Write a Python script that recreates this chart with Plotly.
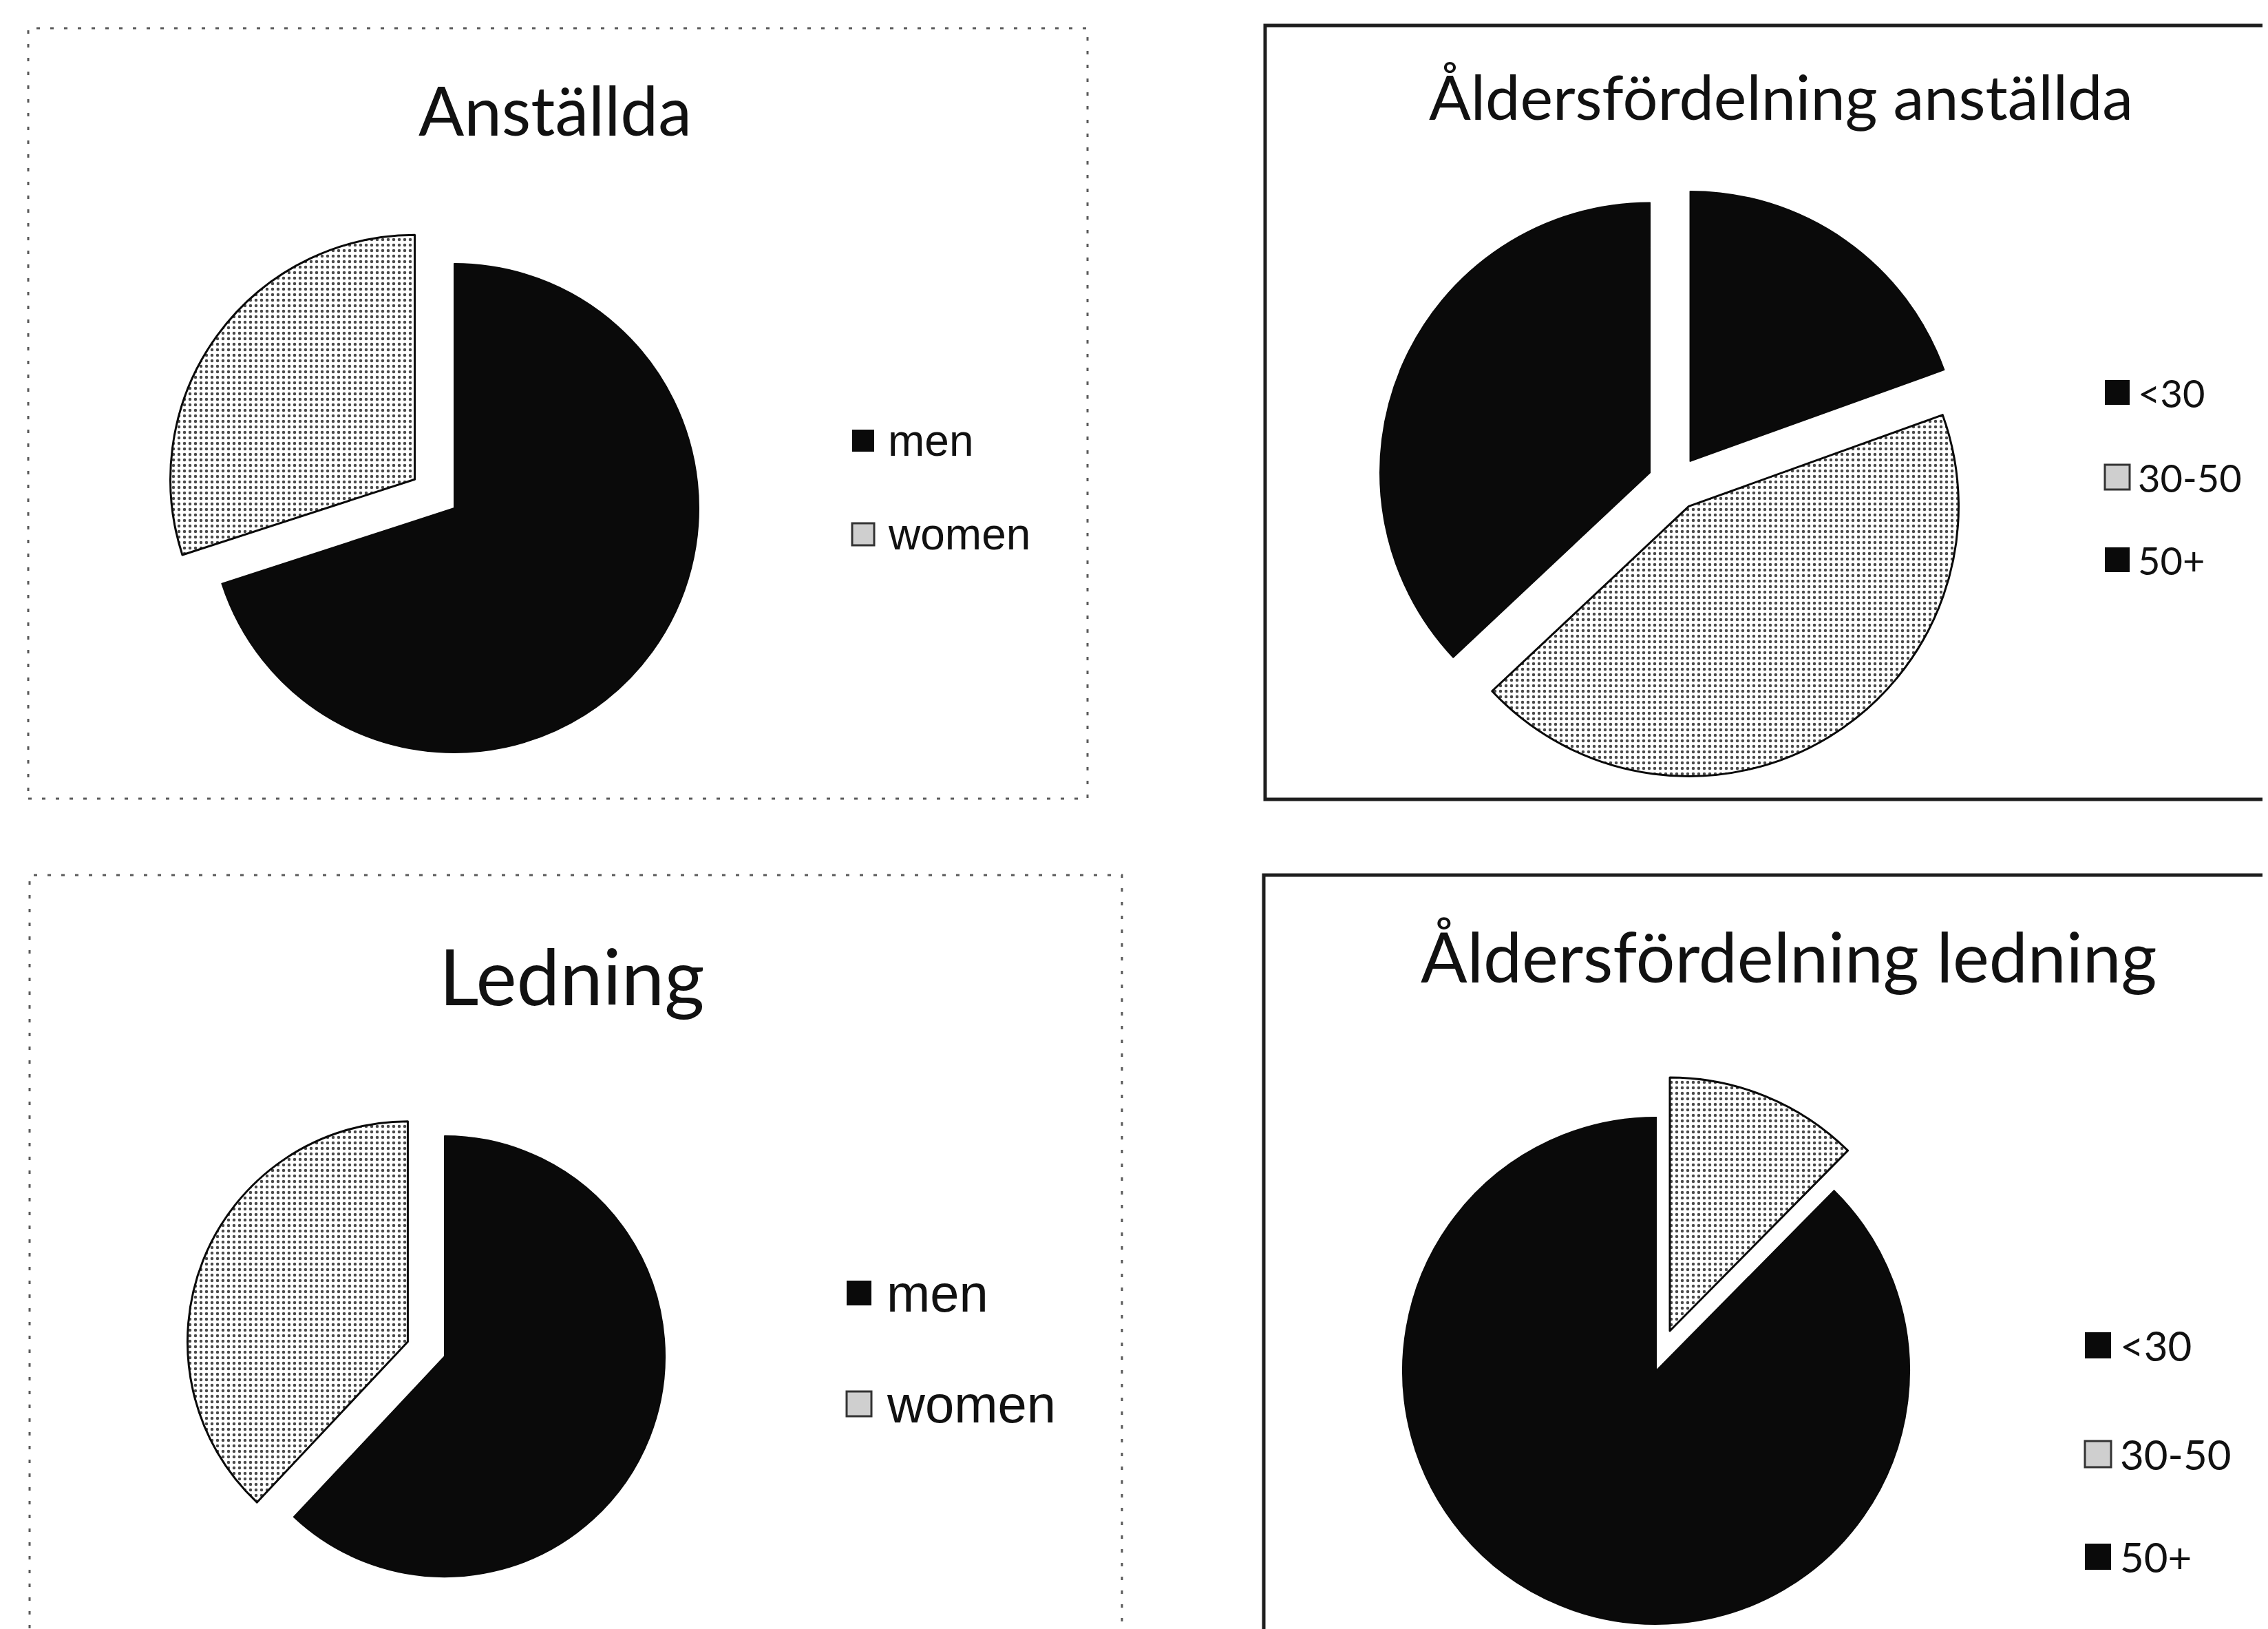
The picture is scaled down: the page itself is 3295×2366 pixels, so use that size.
"""Four exploded pie charts: gender and age distribution (staff vs. management)."""

import plotly.graph_objects as go

W, H = 3295, 2366

# ---- data ---------------------------------------------------------------
gender_labels = ["men", "women"]
anstallda_values = [70, 30]
ledning_values = [62, 38]

age_labels = ["<30", "30-50", "50+"]
alder_anstallda_values = [19.5, 43.5, 37]
alder_ledning_values = [0, 12.4, 87.6]

titles = ["Anställda", "Ledning", "Åldersfördelning anställda", "Åldersfördelning ledning"]

# ---- style --------------------------------------------------------------
INK = "#0a0a0a"
CLEAR = "rgba(0,0,0,0)"
STIPPLE_FG = "#4a4a4a"
TITLE_FONT = "Lato, 'Noto Sans', sans-serif"
LEFT_LEGEND_FONT = "'Liberation Sans', Arial, sans-serif"


def px_x(x):
    return x / W


def px_y(y):
    return 1 - y / H


def pie_domain(cx, cy, r, pull):
    half = r * (1 + pull)
    return {"x": [px_x(cx - half), px_x(cx + half)], "y": [px_y(cy + half), px_y(cy - half)]}


def slice_style(kinds, hide=()):
    """kinds: 'solid' or 'stipple' per slice; slices listed in hide are transparent."""
    colors, shapes, fg, bg, lw = [], [], [], [], []
    for i, k in enumerate(kinds):
        if i in hide:
            colors.append(CLEAR); shapes.append(""); fg.append(CLEAR); bg.append(CLEAR); lw.append(0)
        elif k == "stipple":
            colors.append("white"); shapes.append("."); fg.append(STIPPLE_FG); bg.append("white"); lw.append(3)
        else:
            colors.append(INK); shapes.append(""); fg.append(INK); bg.append(INK); lw.append(2)
    return {
        "colors": colors,
        "pattern": {"shape": shapes, "fgcolor": fg, "bgcolor": bg, "size": 8, "solidity": 0.25,
                    "fillmode": "replace"},
        "line": {"color": [INK if w else CLEAR for w in lw], "width": lw},
    }


def pie(labels, values, kinds, pulls, domain, hide=()):
    return go.Pie(
        labels=labels,
        values=values,
        sort=False,
        direction="clockwise",
        rotation=0,
        pull=pulls,
        textinfo="none",
        showlegend=False,
        domain=domain,
        marker=slice_style(kinds, hide),
    )


fig = go.Figure()

gender_kinds = ["solid", "stipple"]
age_kinds = ["solid", "stipple", "solid"]

fig.add_trace(pie(gender_labels, anstallda_values, gender_kinds, [0, 0.2],
                  pie_domain(652, 730, 355, 0.2)))
fig.add_trace(pie(gender_labels, ledning_values, gender_kinds, [0, 0.18],
                  pie_domain(638, 1962, 320, 0.18)))
fig.add_trace(pie(age_labels, alder_anstallda_values, age_kinds, [0.1, 0.1, 0.1],
                  pie_domain(2425, 694, 392, 0.1)))
# management age pie: the exploded 30-50 slice is drawn as a second, offset copy
fig.add_trace(pie(age_labels, alder_ledning_values, age_kinds, [0, 0, 0],
                  pie_domain(2398, 1983, 368, 0), hide=(1,)))
fig.add_trace(pie(age_labels, alder_ledning_values, age_kinds, [0, 0, 0],
                  pie_domain(2418, 1925, 368, 0), hide=(0, 2)))

shapes = []
annotations = []

# panel frames
frames = [
    (33, 33, 1572, 1152, "#5a5a5a", 3, "5px,15px"),
    (35, 1263, 1622, 2380, "#5a5a5a", 3, "5px,15px"),
    (1830, 29, 3310, 1153, "#1e1e1e", 5, "solid"),
    (1828, 1263, 3310, 2380, "#1e1e1e", 5, "solid"),
]
for x0, y0, x1, y1, c, w, d in frames:
    shapes.append(dict(type="rect", xref="paper", yref="paper",
                       x0=px_x(x0), x1=px_x(x1), y0=px_y(y1), y1=px_y(y0),
                       line=dict(color=c, width=w, dash=d), fillcolor=CLEAR, layer="below"))

# chart titles
title_pos = [(798, 151, 98), (822, 1408, 112), (2579, 131, 90), (2590, 1380, 100)]
for text, (x, y, size) in zip(titles, title_pos):
    annotations.append(dict(text=text, x=px_x(x), y=px_y(y), xref="paper", yref="paper",
                            xanchor="center", yanchor="middle", showarrow=False,
                            font=dict(family=TITLE_FONT, size=size, color="#111")))

# legends: (labels, kinds, symbol x, text x, row y's, symbol size, font, font size)
legends = [
    (gender_labels, gender_kinds, 1246, 1280, [632, 768], 32, LEFT_LEGEND_FONT, 64),
    (gender_labels, gender_kinds, 1240, 1278, [1870, 2031], 36, LEFT_LEGEND_FONT, 76),
    (age_labels, age_kinds, 3068, 3096, [562, 685, 805], 36, TITLE_FONT, 56),
    (age_labels, age_kinds, 3040, 3070, [1946, 2104, 2253], 38, TITLE_FONT, 60),
]
for labels, kinds, sx, tx, ys, s, fam, fs in legends:
    for label, kind, y in zip(labels, kinds, ys):
        stipple = kind == "stipple"
        shapes.append(dict(type="rect", xref="paper", yref="paper",
                           x0=px_x(sx - s / 2), x1=px_x(sx + s / 2),
                           y0=px_y(y + s / 2), y1=px_y(y - s / 2),
                           fillcolor="#cfcfcf" if stipple else INK,
                           line=dict(color="#333" if stipple else INK, width=3 if stipple else 0)))
        annotations.append(dict(text=label, x=px_x(tx), y=px_y(y), xref="paper", yref="paper",
                                xanchor="left", yanchor="middle", showarrow=False,
                                font=dict(family=fam, size=fs, color="#111")))

fig.update_layout(
    width=W,
    height=H,
    autosize=False,
    margin=dict(l=0, r=0, t=0, b=0),
    paper_bgcolor="white",
    plot_bgcolor="white",
    showlegend=False,
    shapes=shapes,
    annotations=annotations,
)

fig.write_html("out.html")
